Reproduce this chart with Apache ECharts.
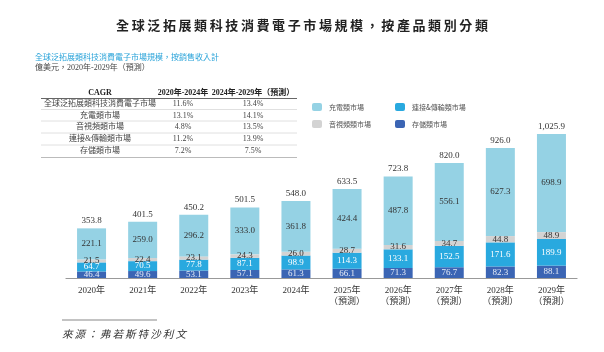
<!DOCTYPE html>
<html lang="zh-Hant" style="height: 100%">
<head>
  <meta charset="utf-8">
</head>
<body style="height: 100%; margin: 0; background: #fff">
  <div id="container" style="width: 604px; height: 352px"></div>

  <script type="text/javascript" src="https://cdn.jsdelivr.net/npm/echarts@6/dist/echarts.min.js"></script>

  <script type="text/javascript">
    var years = ['2020年', '2021年', '2022年', '2023年', '2024年',
      '2025年\n（預測）', '2026年\n（預測）', '2027年\n（預測）', '2028年\n（預測）', '2029年\n（預測）'];
    var storage = [46.4, 49.6, 53.1, 57.1, 61.3, 66.1, 71.3, 76.7, 82.3, 88.1];
    var connection = [64.7, 70.5, 77.8, 87.1, 98.9, 114.3, 133.1, 152.5, 171.6, 189.9];
    var audioVideo = [21.5, 22.4, 23.1, 24.3, 26.0, 28.7, 31.6, 34.7, 44.8, 48.9];
    var charging = [221.1, 259.0, 296.2, 333.0, 361.8, 424.4, 487.8, 556.1, 627.3, 698.9];
    var totals = [353.8, 401.5, 450.2, 501.5, 548.0, 633.5, 723.8, 820.0, 926.0, 1025.9];

    // CAGR 表
    var cagrHeader = ['CAGR', '2020年-2024年', '2024年-2029年（預測）'];
    var cagrNames = ['全球泛拓展類科技消費電子市場', '充電類市場', '音視頻類市場', '連接&傳輸類市場', '存儲類市場'];
    var cagr2020 = ['11.6%', '13.1%', '4.8%', '11.2%', '7.2%'];
    var cagr2024 = ['13.4%', '14.1%', '13.5%', '13.9%', '7.5%'];

    var serif = '"Liberation Serif", "Noto Sans CJK TC", serif';
    var cjk = '"Noto Sans CJK TC", sans-serif';

    // 標題字距較寬, 以細空格隔開
    function spaced(s) { return s.split('').join('\u2009'); }

    var dom = document.getElementById('container');
    var myChart = echarts.init(dom, null, { renderer: 'canvas' });

    var colX = [100, 183, 253];
    var rowY = [104, 115.5, 127, 139, 151];
    var lineY = [109.5, 121, 133, 145];
    var graphics = [];
    cagrHeader.forEach(function (t, i) {
      graphics.push({
        type: 'text', x: colX[i], y: 93,
        style: { text: t, font: 'bold 8px ' + serif, fill: '#222', align: 'center', verticalAlign: 'middle' }
      });
    });
    graphics.push({ type: 'line', shape: { x1: 41, y1: 98.5, x2: 297, y2: 98.5 }, style: { stroke: '#666', lineWidth: 1 } });
    lineY.forEach(function (y) {
      graphics.push({ type: 'line', shape: { x1: 41, y1: y, x2: 297, y2: y }, style: { stroke: '#d8d8d8', lineWidth: 0.8 } });
    });
    graphics.push({ type: 'line', shape: { x1: 41, y1: 157.5, x2: 297, y2: 157.5 }, style: { stroke: '#aaa', lineWidth: 0.8 } });
    cagrNames.forEach(function (name, i) {
      [name, cagr2020[i], cagr2024[i]].forEach(function (t, j) {
        graphics.push({
          type: 'text', x: colX[j], y: rowY[i],
          style: { text: t, font: '8px ' + serif, fill: '#444', align: 'center', verticalAlign: 'middle' }
        });
      });
    });
    graphics.push({ type: 'line', shape: { x1: 62, y1: 320, x2: 157, y2: 320 }, style: { stroke: '#888', lineWidth: 1.2 } });
    graphics.push({
      type: 'text', x: 62, y: 334,
      style: { text: spaced('來源：弗若斯特沙利文'), font: 'italic 10.5px ' + cjk, fill: '#333', verticalAlign: 'middle' }
    });

    function segLabel(color) {
      return {
        show: true, position: 'inside', fontFamily: serif, fontSize: 9, color: color,
        formatter: function (p) { return p.value.toFixed(1); }
      };
    }

    function legendAt(name, left, top) {
      return {
        data: [name], left: left, top: top, itemWidth: 10, itemHeight: 8, itemGap: 0,
        selectedMode: false, padding: 0,
        textStyle: { fontFamily: cjk, fontSize: 7, color: '#555', padding: [0, 0, 0, 2] }
      };
    }

    var option = {
      animation: false,
      title: [
        {
          text: spaced('全球泛拓展類科技消費電子市場規模，按產品類別分類'),
          left: 'center', top: 14,
          textStyle: { fontFamily: cjk, fontSize: 13, fontWeight: 'bold', color: '#222' }
        },
        {
          text: '全球泛拓展類科技消費電子市場規模，按銷售收入計',
          left: 35, top: 53,
          textStyle: { fontFamily: cjk, fontSize: 8, fontWeight: 'normal', color: '#29a3d9' },
          subtext: '億美元，2020年-2029年（預測）',
          itemGap: 3,
          subtextStyle: { fontFamily: serif, fontSize: 8, color: '#444' },
          padding: 0
        }
      ],
      legend: [
        legendAt('充電類市場', 312, 103),
        legendAt('連接&傳輸類市場', 395, 103),
        legendAt('音視頻類市場', 312, 120),
        legendAt('存儲類市場', 395, 120)
      ],
      graphic: graphics,
      grid: { left: 66, right: 27, top: 134, bottom: 74 },
      xAxis: {
        type: 'category',
        data: years,
        axisLine: { lineStyle: { color: '#999', width: 1.2 } },
        axisTick: { show: false },
        axisLabel: { fontFamily: serif, fontSize: 9, color: '#333', margin: 7, lineHeight: 11 }
      },
      yAxis: { type: 'value', show: false, min: 0, max: 1026, splitLine: { show: false } },
      series: [
        {
          name: '存儲類市場', type: 'bar', stack: 'all', barWidth: 29,
          itemStyle: { color: '#3b65b4' }, label: segLabel('#e6ecf7'), data: storage
        },
        {
          name: '連接&傳輸類市場', type: 'bar', stack: 'all',
          itemStyle: { color: '#29a9df' }, label: segLabel('#ffffff'), data: connection
        },
        {
          name: '音視頻類市場', type: 'bar', stack: 'all',
          itemStyle: { color: '#d3d3d3' }, label: segLabel('#333'), data: audioVideo
        },
        {
          name: '充電類市場', type: 'bar', stack: 'all',
          itemStyle: { color: '#95d2e4' }, label: segLabel('#333'), data: charging
        },
        {
          name: 'total', type: 'bar', stack: 'all',
          itemStyle: { color: 'transparent' },
          label: {
            show: true, position: 'top', distance: 3, fontFamily: serif, fontSize: 9, color: '#333',
            formatter: function (p) {
              return totals[p.dataIndex].toLocaleString('en-US', { minimumFractionDigits: 1, maximumFractionDigits: 1 });
            }
          },
          data: totals.map(function () { return 0; })
        }
      ]
    };

    myChart.setOption(option);
    window.addEventListener('resize', myChart.resize);
  </script>
</body>
</html>
